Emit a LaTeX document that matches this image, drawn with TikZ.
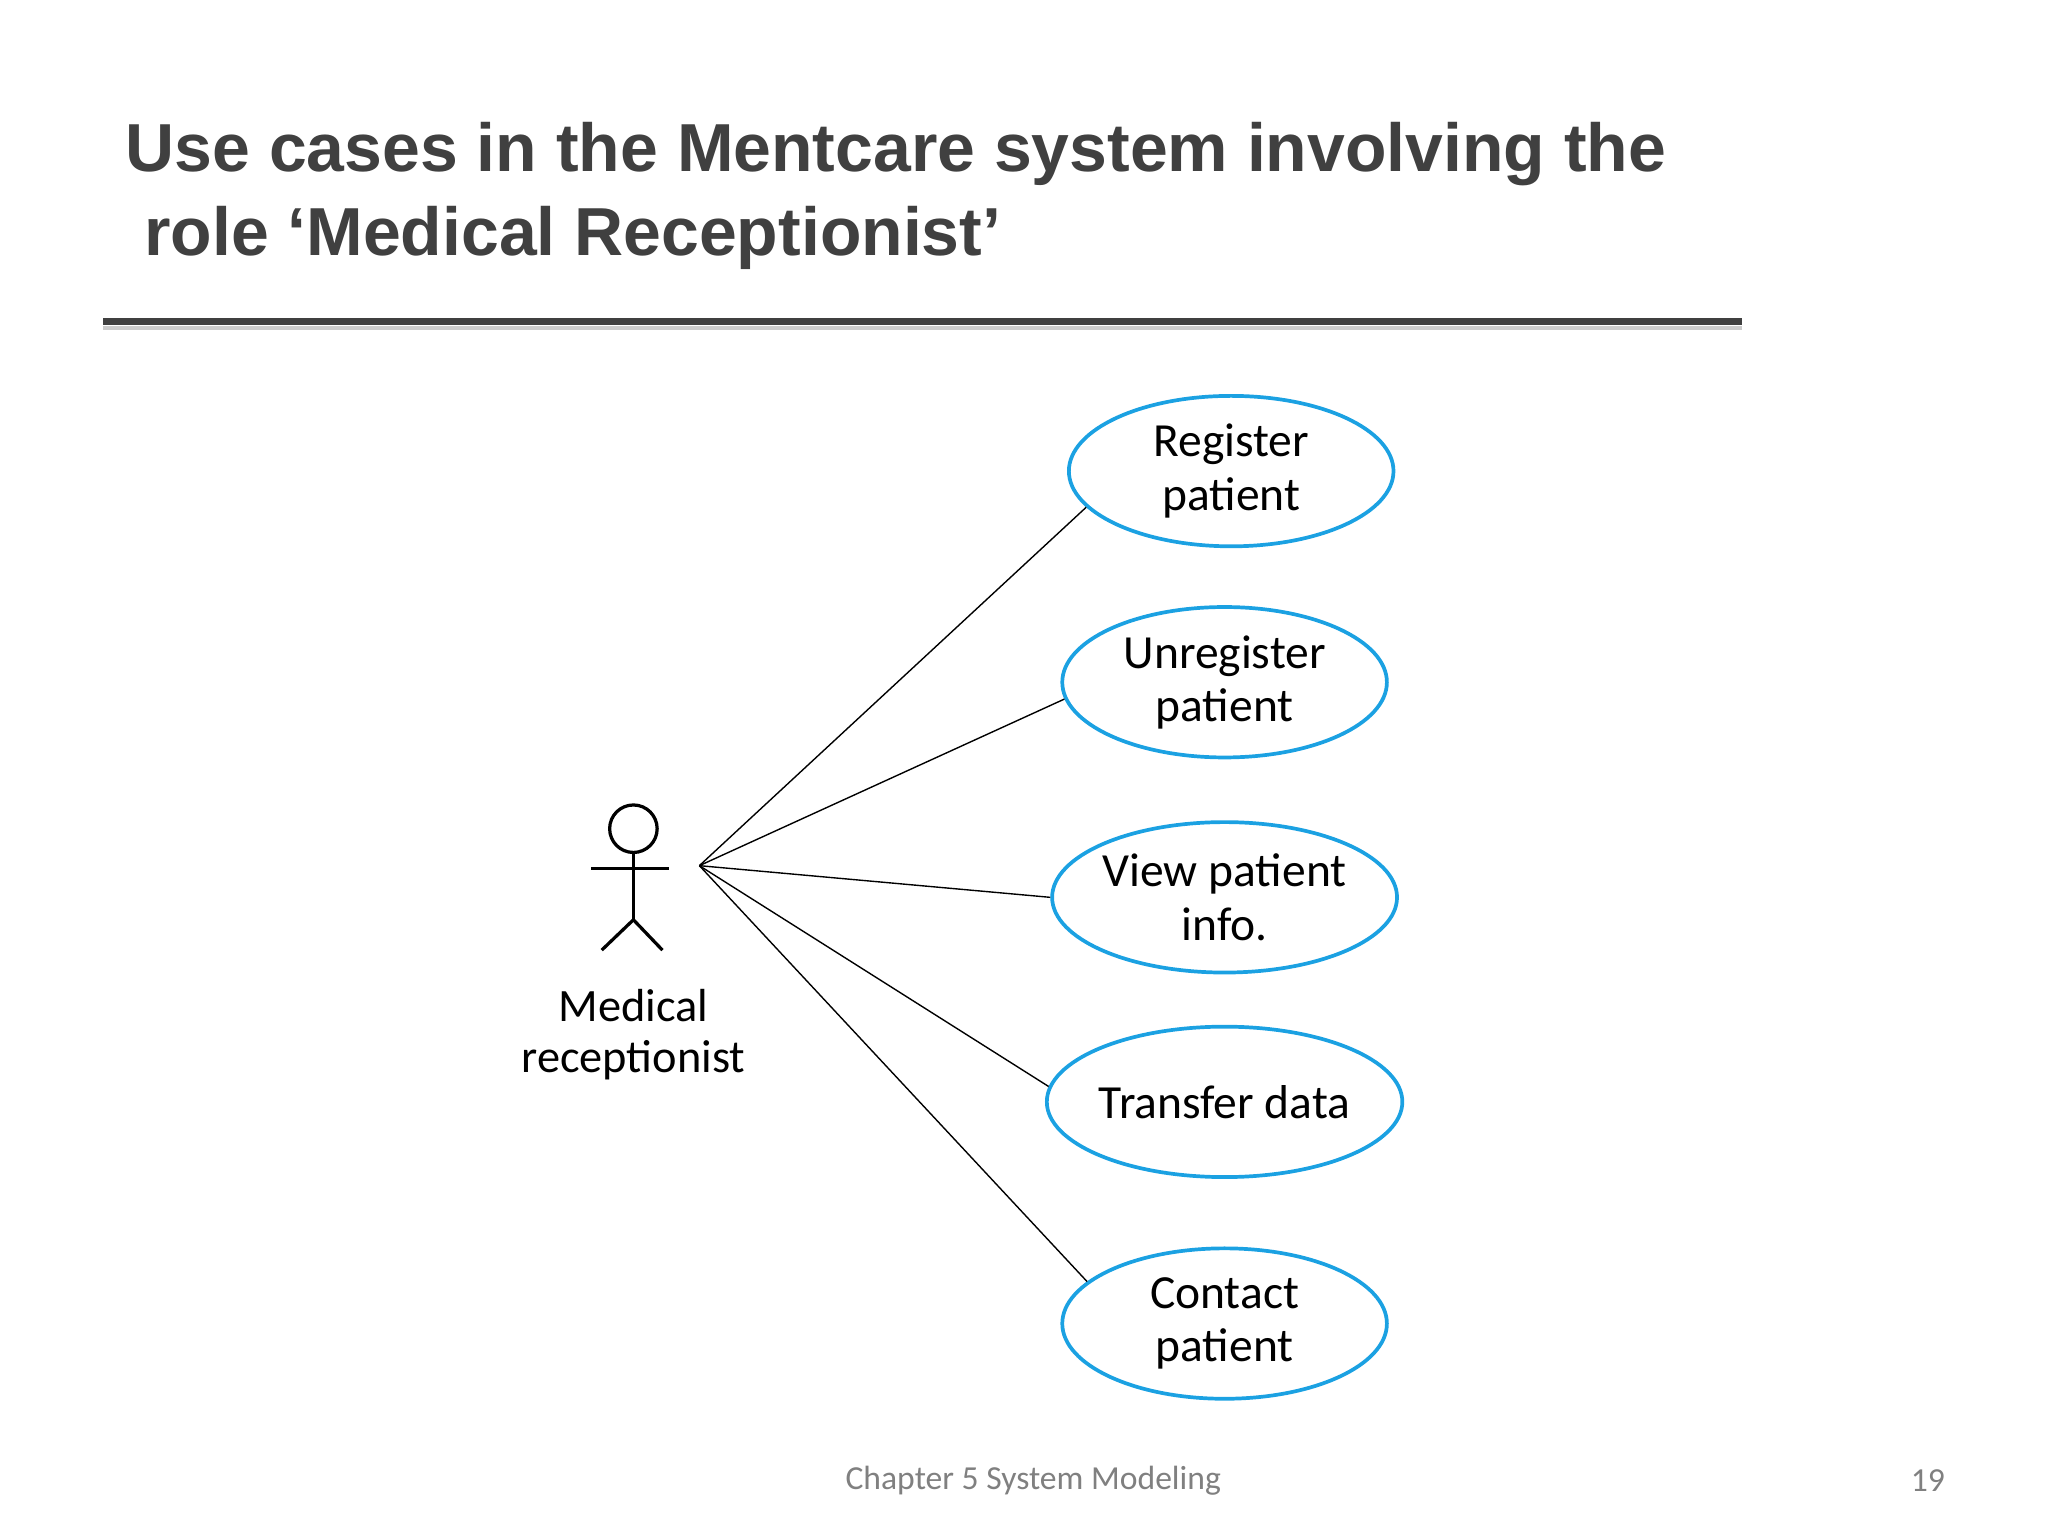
\documentclass[tikz,border=0pt]{standalone}
\usepackage{fontspec}
\setmainfont{Carlito}
\newfontfamily\titlefont{Liberation Sans}
\usetikzlibrary{shapes.geometric}
\definecolor{uc}{HTML}{1BA1E2}
\definecolor{tgray}{HTML}{404040}
\begin{document}
\begin{tikzpicture}[x=0.02cm,y=-0.02cm,
  usecase/.style={ellipse,draw=uc,line width=1.6pt,minimum width=246*0.02cm,minimum height=114*0.02cm,align=center,font=\fontsize{20.5}{23}\selectfont,inner sep=0pt},
  link/.style={draw=black,line width=0.6pt},
  stick/.style={line width=1.4pt}]
\useasboundingbox (0,0) rectangle (1552,1164);
\node[anchor=west,text=tgray,font=\titlefont\bfseries\fontsize{29.3}{36}\selectfont,inner sep=0] (t1) at (95,117) {Use cases in the Mentcare system involving the};
\node[anchor=west,text=tgray,font=\titlefont\bfseries\fontsize{29.3}{36}\selectfont,inner sep=0] (t2) at (109,180) {role ‘Medical Receptionist’};
\fill[tgray] (78,241) rectangle (1320,246);
\fill[gray!40] (78,247) rectangle (1320,250);
% actor
\draw[stick] (480,628) circle (18);
\draw[stick] (480,646) -- (480,697);
\draw[stick] (448,658) -- (507,658);
\draw[stick] (456,720) -- (480,697) -- (502,720);
\node[align=center,font=\fontsize{20}{22}\selectfont] (lab) at (480,784) {Medical\\receptionist};
\coordinate (a) at (530,656);
\node[usecase] (u1) at (933,357) {Register\\patient};
\node[usecase] (u2) at (928,517) {Unregister\\patient};
\node[usecase] (u3) at (928,680) {View patient\\info.};
\node[usecase] (u4) at (928,835) {Transfer data};
\node[usecase] (u5) at (928,1003) {Contact\\patient};
\draw[link] (a) -- (u1.194);
\draw[link] (a) -- (u2.186);
\draw[link] (a) -- (u3.180);
\draw[link] (a) -- (u4.175);
\draw[link] (a) -- (u5.163);
\node[text=gray,font=\fontsize{14.5}{16}\selectfont] (f) at (783,1122) {Chapter 5 System Modeling};
\node[text=gray,font=\fontsize{14.5}{16}\selectfont] (p) at (1461,1122) {19};
\end{tikzpicture}
\end{document}
